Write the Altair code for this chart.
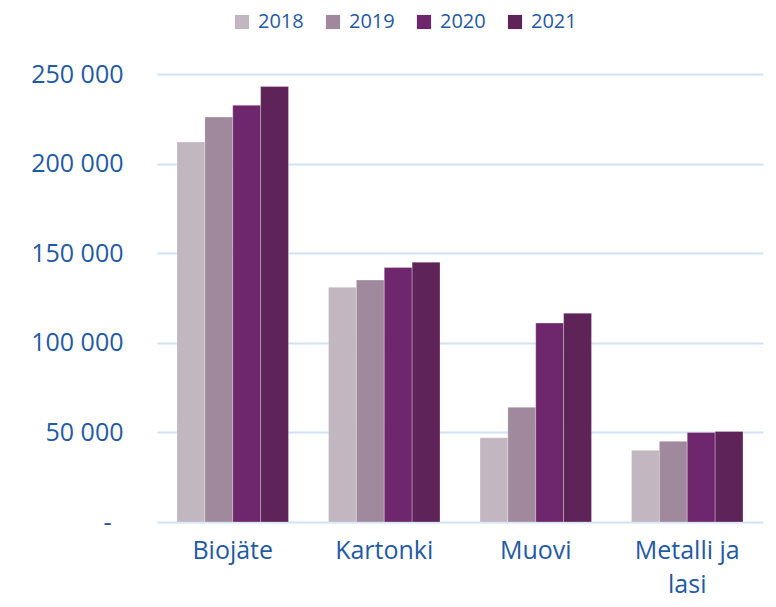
import altair as alt
import pandas as pd

categories = ["Biojäte", "Kartonki", "Muovi", "Metalli ja lasi"]
years = ["2018", "2019", "2020", "2021"]
v2018 = [212000, 131000, 47000, 40000]
v2019 = [226000, 135000, 64000, 45000]
v2020 = [232500, 142000, 111000, 50000]
v2021 = [243000, 145000, 116500, 50500]
colors = ["#c2b6c1", "#a0899d", "#6e266c", "#5e2358"]

rows = []
for i, c in enumerate(categories):
    for y, vals in zip(years, [v2018, v2019, v2020, v2021]):
        rows.append({"kategoria": c, "vuosi": y, "arvo": vals[i]})
df = pd.DataFrame(rows)

blue = "#1f5aa6"
font = "Open Sans"

chart = alt.Chart(df).mark_bar(stroke="#ffffff", strokeOpacity=0.35, strokeWidth=0.8).encode(
    x=alt.X("kategoria:N", sort=categories, title=None,
            scale=alt.Scale(paddingInner=0.264, paddingOuter=0.132),
            axis=alt.Axis(labelAngle=0, labelFontSize=25, labelColor=blue, labelFont=font,
                          ticks=False, domain=False, labelPadding=16, labelLineHeight=34,
                          labelExpr="datum.value == 'Metalli ja lasi' ? ['Metalli ja', 'lasi'] : datum.value")),
    xOffset=alt.XOffset("vuosi:N", sort=years),
    y=alt.Y("arvo:Q", title=None, scale=alt.Scale(domain=[0, 250000], nice=False),
            axis=alt.Axis(values=[0, 50000, 100000, 150000, 200000, 250000],
                          labelFontSize=25, labelColor=blue, labelFont=font,
                          ticks=False, domain=False,
                          labelPadding={"condition": {"test": "datum.value === 0", "value": 46}, "value": 34},
                          gridColor="#d2e2f6", gridWidth=1.8,
                          labelExpr="datum.value == 0 ? '-' : replace(format(datum.value, ','), regexp(',', 'g'), ' ')")),
    color=alt.Color("vuosi:N", sort=years, scale=alt.Scale(domain=years, range=colors),
                    legend=alt.Legend(title=None, orient="none", direction="horizontal",
                                      legendX=75, legendY=-62,
                                      labelFontSize=20, labelColor=blue, labelFont=font,
                                      symbolType="square", symbolSize=200, symbolStrokeWidth=0,
                                      columnPadding=19, labelOffset=6)),
).properties(width=606, height=448, padding={"left": 22, "top": 4, "right": 5, "bottom": 5}).configure_view(stroke=None)

chart.save("out.html", embed_options={"renderer": "svg", "actions": False})
